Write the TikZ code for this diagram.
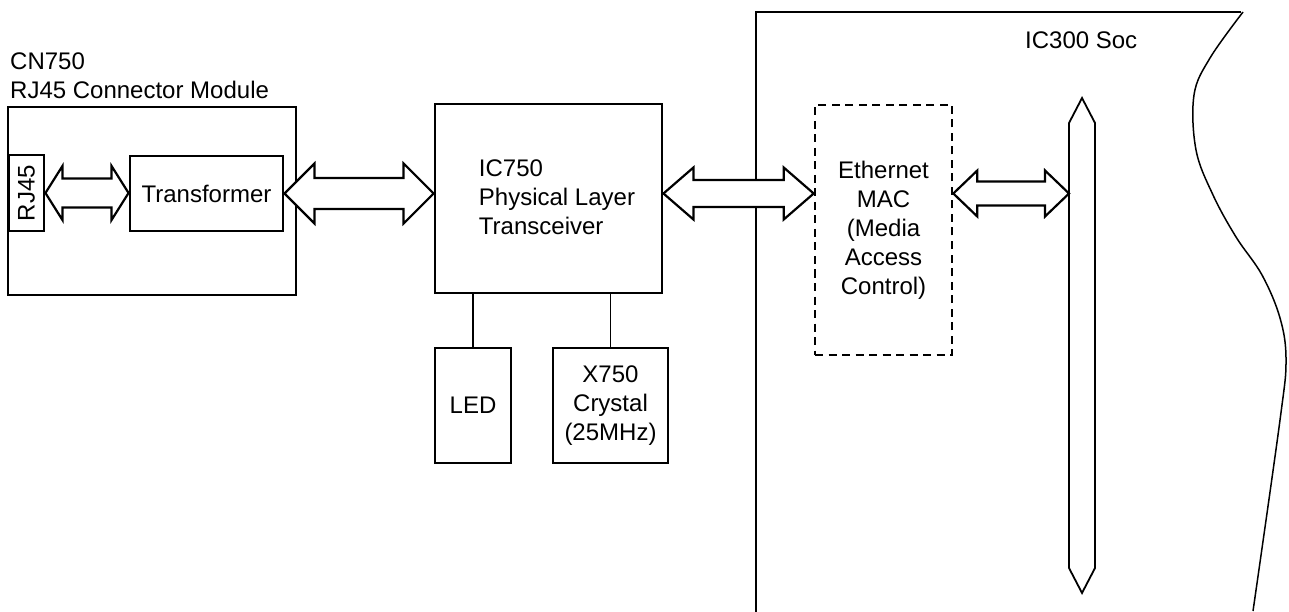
\documentclass[tikz,border=0pt]{standalone}
\usepackage{fontspec}
\setmainfont{Liberation Sans}
\usetikzlibrary{calc}
\tikzset{
  box/.style={draw, line width=2.9pt, rectangle, inner sep=0pt, align=center},
  macbox/.style={draw, line width=2.6pt, dash pattern=on 8pt off 5.5pt, rectangle, inner sep=0pt, align=center},
  wire/.style={draw, line width=1.3pt},
  dbl/.style={draw, line width=2.2pt, fill=white, line join=miter},
  lbl/.style={inner sep=0pt},
}
\newcommand{\dblarr}[5]{%
  \path[dbl] let \p1=(#1), \p2=(#2) in
    (\p1) -- (\x1+#3pt,\y1+#4pt) -- (\x1+#3pt,\y1+#5pt) -- (\x2-#3pt,\y1+#5pt)
    -- (\x2-#3pt,\y1+#4pt) -- (\x2,\y1) -- (\x2-#3pt,\y1-#4pt) -- (\x2-#3pt,\y1-#5pt)
    -- (\x1+#3pt,\y1-#5pt) -- (\x1+#3pt,\y1-#4pt) -- cycle;}
\begin{document}
\begin{tikzpicture}[x=1pt, y=-1pt, font=\fontsize{24}{29}\selectfont]
\useasboundingbox (0,0) rectangle (1289,612);
% labels
\node[lbl, anchor=base west] (cnlbl) at (10,70) {CN750};
\node[lbl, anchor=base west] (cnlbl2) at (10,99) {RJ45 Connector Module};
\node[lbl, anchor=base west] (soclbl) at (1025,49) {IC300 Soc};
% CN750 module
\node[box, minimum width=288pt, minimum height=188pt] (cn) at (152,201) {};
\node[box, minimum width=35pt, minimum height=76pt] (rj) at (26.5,193) {\rotatebox{90}{RJ45}};
\node[box, minimum width=153pt, minimum height=75pt] (tr) at (206.5,193.5) {Transformer};
% IC750
\node[box, minimum width=227pt, minimum height=189pt] (ic) at (548.5,198.5) {};
\node[lbl, align=left] (ictext) at (557,197) {IC750\\Physical Layer\\Transceiver};
\node[box, minimum width=76pt, minimum height=115pt] (led) at (473,405.5) {LED};
\node[box, minimum width=115pt, minimum height=115pt] (xtal) at (610.5,405.5) {X750\\Crystal\\(25MHz)};
\draw[wire] (led.north) -- (led.north |- ic.south);
\draw[wire] (xtal.north) -- (xtal.north |- ic.south);
% SoC outline
\draw[line width=1.6pt] (756,612) -- (756,12) -- (1241,12);
\draw[line width=1.5pt] plot[smooth, tension=0.6] coordinates {(1243,12) (1210,58) (1194,95) (1196,150) (1213,195) (1236,237) (1262,275) (1280,318) (1286,360) (1280,420) (1253,611)};
% Ethernet MAC
\node[macbox, minimum width=137pt, minimum height=250pt] (mac) at (883.5,230) {Ethernet\\MAC\\(Media\\Access\\Control)};
% bus
\draw[line width=1.8pt] (1082,98) -- (1095,123) -- (1095,568) -- (1082,593) -- (1069,568) -- (1069,123) -- cycle;
\coordinate (bus) at (1069,192);
% double arrows
\dblarr{rj.east}{tr.west}{17}{27}{14.5}
\dblarr{tr.east}{ic.west |- tr.east}{30}{30}{15.5}
\dblarr{ic.east |- tr.east}{mac.west |- tr.east}{30}{26}{13.5}
\dblarr{mac.east |- tr.east}{bus |- tr.east}{24}{23}{12}
\end{tikzpicture}
\end{document}
